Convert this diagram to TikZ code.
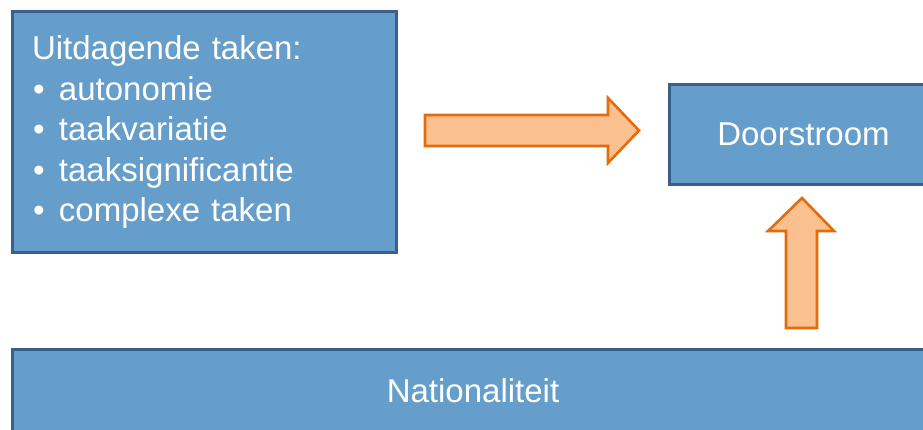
\documentclass[tikz,border=0pt]{standalone}
\usepackage{fontspec}
\setmainfont{Liberation Sans}
\definecolor{boxfill}{HTML}{669ECB}
\definecolor{boxline}{HTML}{3A5F8C}
\definecolor{arrfill}{HTML}{FAC090}
\definecolor{arrline}{HTML}{E46C0A}
\begin{document}
\begin{tikzpicture}[x=1pt,y=-1pt,
  bluebox/.style={draw=boxline, fill=boxfill, line width=3pt, text=white, inner sep=0pt,
    font=\fontsize{33}{40.5}\selectfont},
  blockarrow/.style={draw=arrline, fill=arrfill, line width=2.6pt, line join=miter}]
\clip (0,0) rectangle (923,430);
\fill[white] (0,0) rectangle (923,430);
\newcommand{\bul}[1]{\makebox[27pt][l]{\hspace{1pt}\textbullet}#1}
% boxes
\node[bluebox, anchor=north west, minimum width=384pt, minimum height=241pt,
      align=left, text width=345pt] (tasks) at (11,10)
  {Uitdagende taken:\\ \bul{autonomie}\\ \bul{taakvariatie}\\ \bul{taaksignificantie}\\ \bul{complexe taken}};
\node[bluebox, anchor=north west, minimum width=268pt, minimum height=100pt] (door) at (668,83) {Doorstroom};
\node[bluebox, anchor=north west, minimum width=924pt, minimum height=86pt] (nat) at (11,348) {};
\node[text=white, font=\fontsize{33}{36}\selectfont] (natlabel) at (473,391) {Nationaliteit};
% block arrows
\draw[blockarrow] (425,115) -- (608,115) -- (608,98) -- (639,130.5) -- (608,163) -- (608,146) -- (425,146) -- cycle;
\draw[blockarrow] (786,328) -- (786,231) -- (768,231) -- (802,198) -- (834,231) -- (817,231) -- (817,328) -- cycle;
\end{tikzpicture}
\end{document}
